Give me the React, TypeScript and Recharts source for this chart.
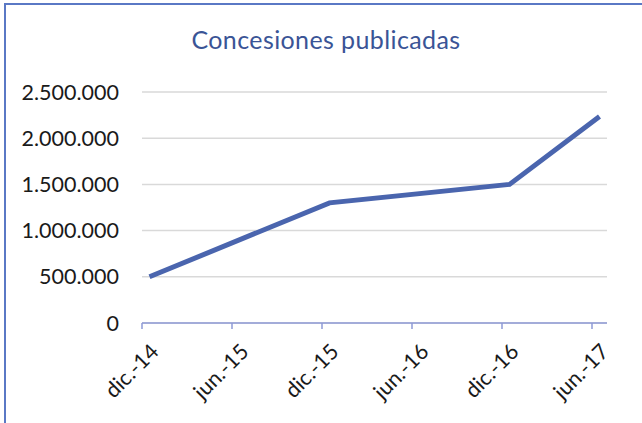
import { LineChart, Line, XAxis, YAxis, CartesianGrid } from 'recharts'

// fechas de publicación (año-mes) y concesiones acumuladas
const dates = ['2014-12', '2015-12', '2016-12', '2017-06']
const concesiones = [500000, 1300000, 1500000, 2235000]

const tickLabels = ['dic.-14', 'jun.-15', 'dic.-15', 'jun.-16', 'dic.-16', 'jun.-17']
const tickMonths = [0, 6, 12, 18, 24, 30]
const yTicks = [0, 500000, 1000000, 1500000, 2000000, 2500000]

const FONT = 'Lato, "Open Sans", sans-serif'

// meses desde dic.-14; el punto va en la mitad del mes (eje de fechas)
const monthIndex = (d: string) => {
  const [y, m] = d.split('-').map(Number)
  return (y - 2014) * 12 + (m - 12) + 0.5
}

const data = dates.map((d, i) => ({ t: monthIndex(d), value: concesiones[i] }))

const fmt = (v: number) => String(v).replace(/\B(?=(\d{3})+(?!\d))/g, '.')

function DateTick(props: any) {
  const { x, y, payload } = props
  const i = tickMonths.indexOf(payload.value)
  return (
    <g transform={`translate(${x + 18},${y + 22})`}>
      <text
        textAnchor="end"
        transform="rotate(-45)"
        fill="#1a1a1a"
        fontSize={21.5}
        fontFamily={FONT}
      >
        {tickLabels[i]}
      </text>
    </g>
  )
}

export default function App() {
  return (
    <div
      style={{
        position: 'fixed',
        left: 0,
        top: 0,
        width: 642,
        height: 423,
        background: '#fff',
        overflow: 'hidden',
      }}
    >
      <div
        style={{
          position: 'absolute',
          left: 4,
          top: 3,
          width: 700,
          height: 500,
          borderTop: '2px solid #5a78c5',
          borderLeft: '2px solid #5a78c5',
        }}
      />
      <div
        style={{
          position: 'absolute',
          left: 0,
          top: 24,
          width: 652,
          textAlign: 'center',
          fontFamily: FONT,
          fontSize: 25,
          letterSpacing: 0.4,
          color: '#3a5496',
        }}
      >
        Concesiones publicadas
      </div>
      <div style={{ position: 'absolute', left: 0, top: 0 }}>
        <LineChart
          width={642}
          height={423}
          data={data}
          margin={{ top: 92, right: 35, bottom: 0, left: 0 }}
        >
          <CartesianGrid vertical={false} stroke="#d9d9d9" strokeWidth={1.5} />
          <XAxis
            dataKey="t"
            type="number"
            domain={[0, 31]}
            ticks={tickMonths}
            height={100}
            stroke="#8e9ad6"
            strokeWidth={1.5}
            tickSize={6}
            tick={<DateTick />}
            interval={0}
          />
          <YAxis
            domain={[0, 2500000]}
            ticks={yTicks}
            width={142}
            axisLine={false}
            tickLine={false}
            tickSize={0}
            tickMargin={23}
            tickFormatter={fmt}
            tick={{ fill: '#1a1a1a', fontSize: 21.5, fontFamily: FONT }}
          />
          <Line
            dataKey="value"
            stroke="#4a65ae"
            strokeWidth={5}
            dot={false}
            isAnimationActive={false}
          />
        </LineChart>
      </div>
    </div>
  )
}
